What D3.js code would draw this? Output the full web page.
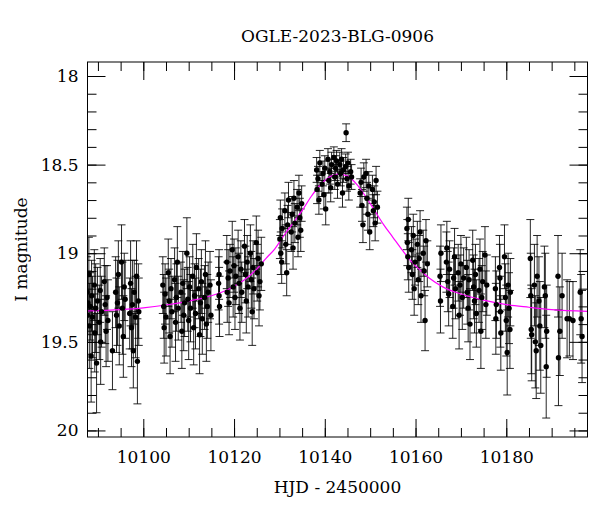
<!DOCTYPE html>
<html>
<head>
<meta charset="utf-8">
<script src="https://cdn.jsdelivr.net/npm/d3@7"></script>
<style>
  body { margin: 0; background: #fff; }
  text { font-family: "DejaVu Serif", "Liberation Serif", serif; fill: #000; }
</style>
</head>
<body>
<div id="svg-area"></div>
<script>
// light curve of OGLE-2023-BLG-0906

var title = "OGLE-2023-BLG-0906";
var xMajor = [10100, 10120, 10140, 10160, 10180];
var xMinor = d3.range(10090, 10200, 5);
var yMajor = [18, 18.5, 19, 19.5, 20];
var yMinor = d3.range(18, 20.01, 0.1);

// model fit (magenta)
var modelHjd = [10087.7, 10095, 10100, 10105, 10110, 10115, 10119, 10122, 10125, 10127, 10129, 10131, 10133,
  10135, 10137, 10139, 10141, 10143, 10145, 10147, 10149, 10151, 10153, 10155, 10157, 10159, 10161,
  10163, 10166, 10170, 10175, 10180, 10185, 10190, 10197.9];
var modelMag = [19.326, 19.318, 19.308, 19.292, 19.27, 19.24, 19.20, 19.155, 19.09, 19.03, 18.975, 18.90, 18.83,
  18.76, 18.68, 18.615, 18.57, 18.553, 18.565, 18.61, 18.68, 18.76, 18.84, 18.91, 18.98, 19.045, 19.095,
  19.14, 19.19, 19.23, 19.265, 19.29, 19.305, 19.318, 19.328];

// photometry: [HJD-2450000, I mag, error]
var obs = [
  [10087.6,19.22,0.20],[10087.7,19.35,0.22],[10087.8,19.28,0.18],[10088.0,19.12,0.21],[10088.1,19.41,0.24],
  [10088.3,19.30,0.19],[10088.5,19.58,0.26],[10088.6,19.24,0.20],[10088.8,19.36,0.23],
  [10089.2,19.18,0.20],[10089.3,19.45,0.22],[10089.5,19.31,0.25],[10089.7,19.62,0.28],[10089.9,19.27,0.19],
  [10090.3,19.39,0.21],[10090.5,19.21,0.18],[10090.6,19.50,0.24],[10090.8,19.33,0.20],
  [10091.4,19.16,0.19],[10091.6,19.29,0.22],[10091.8,19.44,0.20],[10092.0,19.25,0.18],[10092.2,19.38,0.23],
  [10093.2,19.55,0.22],[10093.9,19.22,0.20],[10094.1,19.35,0.21],[10094.3,19.28,0.24],[10094.5,19.12,0.19],[10094.7,19.41,0.22],
  [10095.2,19.05,0.21],[10095.4,19.31,0.26],[10095.6,19.47,0.23],[10095.8,19.19,0.19],[10096.0,19.26,0.22],
  [10097.0,19.34,0.20],[10097.2,19.17,0.24],[10097.4,19.42,0.22],[10097.6,19.29,0.25],[10097.8,19.55,0.21],[10098.0,19.22,0.18],
  [10098.3,19.36,0.23],[10098.5,19.13,0.20],[10098.7,19.61,0.24],[10098.9,19.27,0.21],[10099.0,19.33,0.19],

  [10104.3,19.18,0.16],[10104.5,19.30,0.18],[10104.6,19.42,0.20],[10104.8,19.23,0.17],[10105.0,19.36,0.22],
  [10105.5,19.11,0.19],[10105.7,19.27,0.18],[10105.9,19.47,0.21],[10106.1,19.20,0.17],[10106.3,19.33,0.20],
  [10106.9,19.15,0.18],[10107.1,19.39,0.22],[10107.3,19.25,0.19],[10107.5,19.05,0.20],[10107.7,19.31,0.18],
  [10108.3,19.22,0.17],[10108.5,19.44,0.21],[10108.7,19.17,0.18],[10108.9,19.35,0.20],[10109.1,19.28,0.19],
  [10109.6,19.00,0.20],[10109.8,19.26,0.18],[10110.0,19.38,0.22],[10110.2,19.19,0.17],[10110.4,19.31,0.19],
  [10110.9,19.13,0.18],[10111.1,19.42,0.21],[10111.3,19.24,0.18],[10111.5,19.34,0.20],[10111.7,19.08,0.19],
  [10112.2,19.20,0.17],[10112.4,19.46,0.22],[10112.6,19.28,0.19],[10112.8,19.16,0.18],[10113.0,19.37,0.20],
  [10113.5,19.25,0.18],[10113.7,19.12,0.19],[10113.9,19.40,0.21],[10114.1,19.30,0.18],[10114.3,19.22,0.17],
  [10114.7,19.18,0.19],[10114.9,19.35,0.20],
  [10116.6,19.17,0.15],[10116.7,19.24,0.16],[10116.8,19.30,0.17],[10116.7,19.12,0.14],

  [10118.4,19.05,0.15],[10118.5,19.22,0.17],[10118.7,19.14,0.16],[10118.9,19.28,0.18],[10119.1,19.10,0.15],
  [10119.6,18.98,0.16],[10119.8,19.19,0.17],[10120.0,19.07,0.15],[10120.2,19.25,0.18],[10120.4,19.13,0.16],
  [10120.9,19.02,0.15],[10121.1,19.17,0.17],[10121.3,19.31,0.18],[10121.5,19.09,0.16],[10121.7,19.22,0.17],
  [10122.3,18.96,0.15],[10122.5,19.12,0.16],[10122.7,19.27,0.18],[10122.9,19.05,0.15],[10123.1,19.19,0.17],
  [10123.6,19.00,0.16],[10123.8,19.15,0.16],[10124.0,19.33,0.19],[10124.2,19.08,0.15],[10124.4,19.20,0.17],
  [10124.9,18.94,0.15],[10125.1,19.11,0.16],[10125.3,19.03,0.16],[10125.5,19.24,0.17],[10125.7,19.16,0.16],[10126.0,19.06,0.15],

  [10130.1,18.92,0.11],[10130.2,18.80,0.10],[10130.3,19.00,0.12],[10130.5,19.05,0.12],[10130.6,18.86,0.11],
  [10131.2,18.76,0.10],[10131.4,18.95,0.11],[10131.6,19.11,0.13],[10131.8,18.84,0.11],[10132.0,18.70,0.10],
  [10132.6,18.88,0.11],[10132.8,18.78,0.10],[10133.0,18.97,0.12],[10133.2,18.69,0.10],[10133.4,18.83,0.11],
  [10133.9,18.74,0.10],[10134.1,18.91,0.11],[10134.3,18.66,0.10],[10134.5,18.80,0.11],[10134.7,18.87,0.12],[10134.9,18.72,0.10],

  [10138.2,18.53,0.07],[10138.3,18.64,0.08],[10138.5,18.58,0.07],[10138.7,18.70,0.08],[10138.9,18.49,0.07],
  [10139.4,18.61,0.07],[10139.6,18.55,0.07],[10139.8,18.67,0.08],[10140.0,18.52,0.07],[10140.2,18.75,0.09],
  [10140.7,18.47,0.06],[10140.9,18.59,0.07],[10141.1,18.54,0.07],[10141.3,18.63,0.08],[10141.5,18.50,0.07],
  [10142.0,18.46,0.06],[10142.2,18.57,0.07],[10142.4,18.52,0.07],[10142.6,18.48,0.06],[10142.8,18.61,0.08],
  [10143.3,18.50,0.07],[10143.5,18.55,0.07],[10143.7,18.47,0.06],[10143.9,18.66,0.08],[10144.1,18.53,0.07],
  [10144.7,18.32,0.05],
  [10144.6,18.51,0.07],[10144.9,18.58,0.07],[10145.1,18.49,0.06],[10145.3,18.62,0.08],[10145.7,18.54,0.07],[10145.9,18.57,0.07],

  [10147.8,18.66,0.08],[10148.0,18.60,0.08],[10148.2,18.73,0.09],[10148.4,18.84,0.10],[10148.6,18.57,0.08],
  [10149.1,18.55,0.08],[10149.3,18.69,0.09],[10149.5,18.78,0.09],[10149.7,18.62,0.08],[10149.9,18.88,0.10],
  [10150.5,18.64,0.08],[10150.7,18.76,0.09],[10150.9,18.71,0.09],[10151.1,18.83,0.10],[10151.3,18.59,0.08],[10151.6,18.74,0.09],

  [10158.1,18.86,0.12],[10158.2,18.94,0.13],[10158.3,19.02,0.13],[10158.4,18.81,0.12],[10158.5,19.08,0.14],
  [10159.1,18.98,0.13],[10159.3,19.12,0.14],[10159.5,18.90,0.12],[10159.7,19.20,0.15],[10159.9,19.05,0.13],
  [10160.4,18.95,0.13],[10160.6,19.15,0.14],[10160.8,19.03,0.13],[10161.0,18.88,0.12],[10161.2,19.24,0.15],
  [10161.7,19.00,0.13],[10161.9,19.10,0.14],[10162.1,19.38,0.17],[10162.3,18.93,0.12],[10162.6,19.06,0.13],

  [10165.4,19.13,0.17],[10165.5,19.27,0.18],[10165.6,19.00,0.16],[10166.8,19.05,0.17],[10166.9,18.97,0.15],
  [10167.1,19.16,0.17],[10167.3,19.23,0.18],[10167.5,19.09,0.16],[10168.2,19.30,0.18],[10168.4,19.14,0.17],
  [10168.6,19.02,0.16],[10168.8,19.20,0.17],[10169.4,19.11,0.16],[10169.6,19.35,0.19],[10169.8,19.18,0.17],
  [10170.0,19.06,0.16],[10170.3,19.25,0.18],[10170.6,19.14,0.17],
  [10171.2,19.08,0.17],[10171.4,19.22,0.18],[10171.6,19.31,0.19],[10171.8,19.15,0.17],[10172.0,19.40,0.20],
  [10172.6,19.04,0.17],[10172.8,19.19,0.18],[10173.0,19.27,0.18],[10173.2,19.12,0.17],[10173.4,19.34,0.19],
  [10174.0,19.21,0.18],[10174.2,19.09,0.17],[10174.4,19.44,0.21],[10174.6,19.25,0.18],[10174.8,19.16,0.17],
  [10175.3,19.01,0.16],[10175.5,19.29,0.19],[10175.7,19.18,0.17],

  [10177.6,19.20,0.18],[10177.7,19.37,0.20],[10177.8,19.29,0.19],[10178.5,19.08,0.18],[10178.6,19.14,0.19],
  [10178.7,19.33,0.20],[10178.8,19.45,0.21],[10179.6,19.02,0.18],[10179.8,19.25,0.19],[10180.0,19.38,0.20],
  [10180.2,19.56,0.24],[10180.4,19.18,0.18],[10180.6,19.31,0.20],[10180.8,19.43,0.22],[10180.9,19.22,0.19],

  [10185.3,19.03,0.22],[10185.4,19.24,0.24],[10185.5,19.43,0.25],[10185.6,19.46,0.26],[10186.2,19.18,0.23],
  [10186.4,19.50,0.26],[10186.6,19.55,0.27],[10186.8,19.13,0.23],[10187.2,19.27,0.25],[10187.4,19.41,0.25],
  [10187.6,19.52,0.27],[10188.4,19.19,0.23],[10188.6,19.24,0.24],[10188.8,19.64,0.29],[10188.9,19.44,0.26],
  [10191.4,19.13,0.23],[10191.5,19.59,0.27],[10191.8,19.44,0.25],[10192.3,19.24,0.24],
  [10193.4,19.37,0.22],[10193.9,19.37,0.21],[10194.7,19.38,0.22],
  [10196.3,19.22,0.24],[10196.5,19.37,0.25],[10196.7,19.47,0.26]
];

var svgWidth = 600;
var svgHeight = 512;

var margin = {
  top: 62,
  right: 12.5,
  bottom: 75,
  left: 87.5
};

var width = svgWidth - margin.left - margin.right;
var height = svgHeight - margin.top - margin.bottom;

var svg = d3.select("#svg-area")
  .append("svg")
  .attr("width", svgWidth)
  .attr("height", svgHeight);

var chartGroup = svg.append("g")
  .attr("transform", `translate(${margin.left}, ${margin.top})`);

// scales (magnitude axis runs downwards)
var xScale = d3.scaleLinear()
  .domain([10087.7, 10197.9])
  .range([0, width]);

var yScale = d3.scaleLinear()
  .domain([17.921, 20.037])
  .range([0, height]);

chartGroup.append("clipPath")
  .attr("id", "plot-clip")
  .append("rect")
  .attr("width", width)
  .attr("height", height);

var plot = chartGroup.append("g").attr("clip-path", "url(#plot-clip)");

// error bars
var bars = plot.append("g")
  .attr("stroke", "#000")
  .attr("stroke-opacity", 0.85)
  .attr("stroke-width", 1);

bars.selectAll(".ebar")
  .data(obs)
  .join("path")
  .attr("class", "ebar")
  .attr("fill", "none")
  .attr("d", d => {
    var x = xScale(d[0]);
    var y1 = yScale(d[1] - d[2]);
    var y2 = yScale(d[1] + d[2]);
    return `M${x},${y1}V${y2}M${x - 4},${y1}H${x + 4}M${x - 4},${y2}H${x + 4}`;
  });

// model curve
var line = d3.line()
  .x(d => xScale(d[0]))
  .y(d => yScale(d[1]))
  .curve(d3.curveMonotoneX);

plot.append("path")
  .datum(modelHjd.map((t, i) => [t, modelMag[i]]))
  .attr("fill", "none")
  .attr("stroke", "#ff00ff")
  .attr("stroke-width", 1.2)
  .attr("d", line);

// points
plot.selectAll("circle")
  .data(obs)
  .join("circle")
  .attr("cx", d => xScale(d[0]))
  .attr("cy", d => yScale(d[1]))
  .attr("r", 2.7)
  .attr("fill", "#000");

// axes, ticks on all four sides pointing inwards
function styleAxis(g) {
  g.select(".domain").remove();
  g.selectAll(".tick line").attr("stroke", "#000");
  g.selectAll("text").style("font-size", "17px").attr("fill", "#000");
}

chartGroup.append("g")
  .attr("transform", `translate(0, ${height})`)
  .call(d3.axisBottom(xScale).tickValues(xMinor).tickSize(-9).tickFormat(""))
  .call(styleAxis);
chartGroup.append("g")
  .attr("transform", `translate(0, ${height})`)
  .call(d3.axisBottom(xScale).tickValues(xMajor).tickSize(-18).tickPadding(14).tickFormat(d3.format("d")))
  .call(styleAxis);
chartGroup.append("g")
  .call(d3.axisTop(xScale).tickValues(xMinor).tickSize(-9).tickFormat(""))
  .call(styleAxis);
chartGroup.append("g")
  .call(d3.axisTop(xScale).tickValues(xMajor).tickSize(-18).tickFormat(""))
  .call(styleAxis);

chartGroup.append("g")
  .call(d3.axisLeft(yScale).tickValues(yMinor).tickSize(-9).tickFormat(""))
  .call(styleAxis);
chartGroup.append("g")
  .call(d3.axisLeft(yScale).tickValues(yMajor).tickSize(-18).tickPadding(9).tickFormat(d3.format("")))
  .call(styleAxis);
chartGroup.append("g")
  .attr("transform", `translate(${width}, 0)`)
  .call(d3.axisRight(yScale).tickValues(yMinor).tickSize(-9).tickFormat(""))
  .call(styleAxis);
chartGroup.append("g")
  .attr("transform", `translate(${width}, 0)`)
  .call(d3.axisRight(yScale).tickValues(yMajor).tickSize(-18).tickFormat(""))
  .call(styleAxis);

// frame
chartGroup.append("rect")
  .attr("width", width)
  .attr("height", height)
  .attr("fill", "none")
  .attr("stroke", "#000")
  .attr("stroke-width", 1);

// labels
svg.append("text")
  .attr("x", margin.left + width / 2)
  .attr("y", 42)
  .attr("text-anchor", "middle")
  .style("font-size", "17px")
  .text(title);

svg.append("text")
  .attr("x", margin.left + width / 2)
  .attr("y", 493)
  .attr("text-anchor", "middle")
  .style("font-size", "17px")
  .text("HJD - 2450000");

svg.append("text")
  .attr("transform", `translate(27, ${margin.top + height / 2}) rotate(-90)`)
  .attr("text-anchor", "middle")
  .attr("fill", "#000")
  .style("font-size", "17px")
  .style("opacity", 0.99)
  .text("I magnitude");
</script>
</body>
</html>
